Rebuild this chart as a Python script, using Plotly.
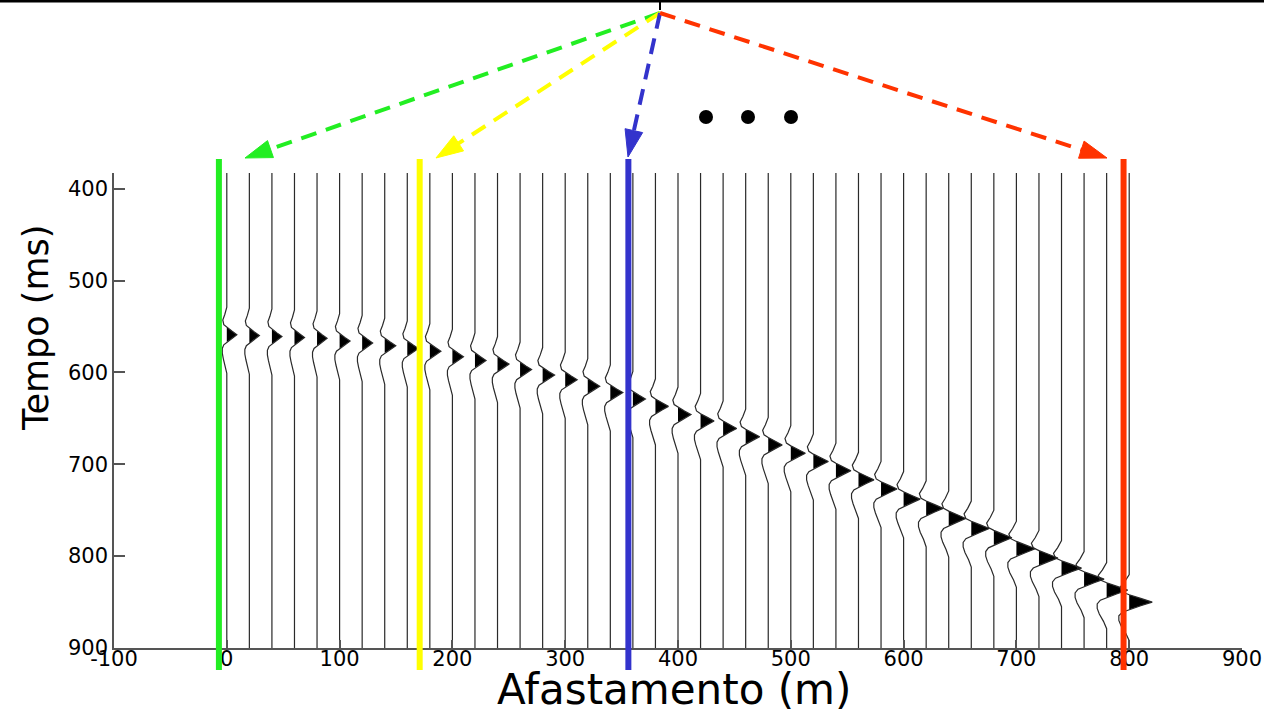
import plotly.graph_objects as go

# ---------------- data ----------------
offsets = [0, 20, 40, 60, 80, 100, 120, 140, 160, 180, 200,
           220, 240, 260, 280, 300, 320, 340, 360, 380, 400,
           420, 440, 460, 480, 500, 520, 540, 560, 580, 600,
           620, 640, 660, 680, 700, 720, 740, 760, 780, 800]
# arrival (peak) time of each trace, ms
arrivals = [559, 560, 561, 562, 563, 566, 568, 571, 574, 577, 583,
            587, 591, 597, 603, 608, 615, 622, 629, 637, 646,
            653, 661, 670, 679, 688, 697, 707, 717, 727, 738,
            748, 759, 770, 780, 792, 802, 813, 825, 837, 850]
# peak amplitude of each trace, in metres of offset
amps = [8.9, 8.9, 8.9, 8.9, 8.9, 9.3, 9.3, 9.8, 9.8, 9.8, 9.8,
        9.8, 10.2, 10.2, 10.6, 10.6, 10.6, 11.1, 11.1, 11.5, 11.5,
        12.0, 12.0, 12.4, 12.4, 12.9, 13.3, 13.3, 13.7, 14.2, 14.6,
        15.1, 15.1, 16.0, 16.0, 16.8, 16.8, 17.7, 17.7, 18.6, 20.4]
# normalised wavelet samples (relative time in ms, amplitude)
wav_t = [-30, -22, -16, -11, -8, -4, 0, 4, 8, 11, 15, 20, 26, 34, 42]
wav_a = [0, -0.2, -0.4, -0.3, 0, 0.5, 1, 0.5, 0, -0.3, -0.45, -0.45, -0.35, -0.15, 0]

# receiver highlight lines (offset, m) and colours
marker_x = [-7, 171, 356, 795]
marker_col = ["#22ee22", "#ffff00", "#3333cc", "#ff3300"]
# arrow tips for each highlighted receiver (pixel positions in figure)
arrow_tips = [(245, 158), (436, 158), (628, 157), (1107, 158)]

xticks = [-100, 0, 100, 200, 300, 400, 500, 600, 700, 800, 900]
xtick_text = ["-100", "0", "100", "200", "300", "400", "500", "600", "700", "800", "900"]
yticks = [400, 500, 600, 700, 800, 900]
ytick_text = ["400", "500", "600", "700", "800", "900"]

T_TOP, T_BOT = 383, 900
X_MIN, X_MAX = -100, 900

# ---------------- build traces ----------------
wig_x, wig_y, fill_x, fill_y = [], [], [], []
for x0, t0, A in zip(offsets, arrivals, amps):
    wig_x += [x0] + [x0 + A * a for a in wav_a] + [x0, None]
    wig_y += [T_TOP] + [t0 + dt for dt in wav_t] + [T_BOT, None]
    px_ = [x0 + A * a for dt, a in zip(wav_t, wav_a) if -8 <= dt <= 8]
    py_ = [t0 + dt for dt in wav_t if -8 <= dt <= 8]
    fill_x += px_ + [px_[0], None]
    fill_y += py_ + [py_[0], None]

fig = go.Figure()
fig.add_trace(go.Scatter(x=fill_x, y=fill_y, mode="lines", fill="toself",
                         fillcolor="black", line=dict(width=0, color="black"),
                         hoverinfo="skip", showlegend=False))
fig.add_trace(go.Scatter(x=wig_x, y=wig_y, mode="lines",
                         line=dict(color="#2a2a2a", width=1.2),
                         hoverinfo="skip", showlegend=False))

# ---------------- layout geometry ----------------
W_FIG, H_FIG = 1264, 715
L, R, T, B = 114, 1242, 173, 648
PW, PH = R - L, B - T

def pxp(xp):
    return (xp - L) / PW

def pyp(yp):
    return (B - yp) / PH

def dxp(xd):
    return (xd - X_MIN) / (X_MAX - X_MIN)

shapes = []
# top black line and source tick
shapes.append(dict(type="line", xref="paper", yref="paper", x0=pxp(0), x1=pxp(1264),
                   y0=pyp(1), y1=pyp(1), line=dict(color="black", width=3)))
shapes.append(dict(type="line", xref="paper", yref="paper", x0=pxp(660), x1=pxp(660),
                   y0=pyp(2), y1=pyp(10), line=dict(color="black", width=2)))

src = (660, 13)
HEAD_L, HEAD_W = 27, 9
for (tx, ty), col in zip(arrow_tips, marker_col):
    dx, dy = tx - src[0], ty - src[1]
    n = (dx * dx + dy * dy) ** 0.5
    ux, uy = dx / n, dy / n
    bx, by = tx - ux * HEAD_L, ty - uy * HEAD_L
    shapes.append(dict(type="line", xref="paper", yref="paper",
                       x0=pxp(src[0]), y0=pyp(src[1]), x1=pxp(bx + ux * 2), y1=pyp(by + uy * 2),
                       line=dict(color=col, width=4, dash="16px,10px")))
    p1 = (bx - uy * HEAD_W, by + ux * HEAD_W)
    p2 = (bx + uy * HEAD_W, by - ux * HEAD_W)
    path = "M {:.5f},{:.5f} L {:.5f},{:.5f} L {:.5f},{:.5f} Z".format(
        pxp(tx), pyp(ty), pxp(p1[0]), pyp(p1[1]), pxp(p2[0]), pyp(p2[1]))
    shapes.append(dict(type="path", xref="paper", yref="paper", path=path,
                       fillcolor=col, line=dict(color=col, width=1)))

# coloured receiver lines
for xm, col in zip(marker_x, marker_col):
    shapes.append(dict(type="line", xref="paper", yref="paper",
                       x0=dxp(xm), x1=dxp(xm), y0=pyp(670), y1=pyp(159),
                       line=dict(color=col, width=6), layer="above"))

# three dots
for cx in (706, 748, 791):
    r = 7
    shapes.append(dict(type="circle", xref="paper", yref="paper",
                       x0=pxp(cx - r), x1=pxp(cx + r), y0=pyp(117 + r), y1=pyp(117 - r),
                       fillcolor="black", line=dict(color="black", width=0)))

annotations = [
    dict(text="Tempo (ms)", xref="paper", yref="paper", x=pxp(36), y=pyp(328),
         textangle=-90, showarrow=False, xanchor="center", yanchor="middle",
         font=dict(family="DejaVu Sans", size=35, color="black")),
    dict(text="Afastamento (m)", xref="paper", yref="paper", x=pxp(674), y=pyp(689),
         showarrow=False, xanchor="center", yanchor="middle",
         font=dict(family="DejaVu Sans", size=42, color="black")),
]

fig.update_layout(
    width=W_FIG, height=H_FIG, autosize=False,
    margin=dict(l=L, r=W_FIG - R, t=T, b=H_FIG - B, pad=0, autoexpand=False),
    paper_bgcolor="white", plot_bgcolor="white",
    shapes=shapes, annotations=annotations, showlegend=False,
    xaxis=dict(range=[X_MIN, X_MAX], autorange=False, showgrid=False, zeroline=False,
               automargin=False,
               showline=True, linecolor="#555555", linewidth=1.5,
               ticks="inside", ticklen=8, tickcolor="#555555", tickwidth=1.5,
               tickvals=xticks, ticktext=xtick_text, ticklabelstandoff=-9,
               tickfont=dict(family="DejaVu Sans", size=21, color="black")),
    yaxis=dict(range=[T_BOT, T_TOP], autorange=False, showgrid=False, zeroline=False,
               automargin=False,
               showline=True, linecolor="#555555", linewidth=1.5,
               ticks="inside", ticklen=11, tickcolor="#555555", tickwidth=1.5,
               tickvals=yticks, ticktext=ytick_text, ticklabelstandoff=0,
               tickfont=dict(family="DejaVu Sans", size=21, color="black")),
)

fig.write_html("out.html",
               config={"displayModeBar": False, "responsive": False},
               post_script="document.body.style.margin='0px';document.body.style.overflow='hidden';")
